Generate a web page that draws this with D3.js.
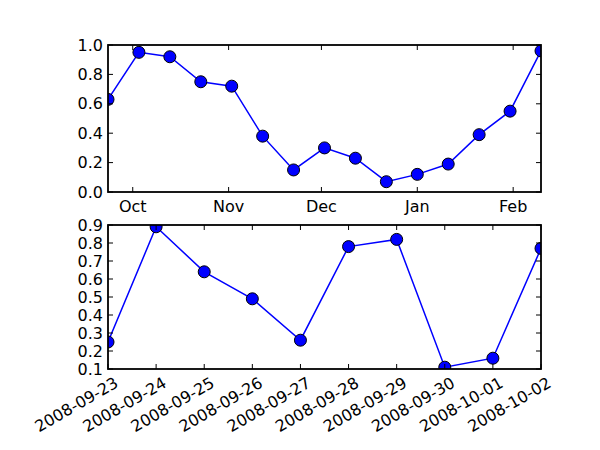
<!DOCTYPE html>
<html><head><meta charset="utf-8">
<script src="https://cdn.jsdelivr.net/npm/d3@7"></script>
<style>body{margin:0;background:#fff}text{font-family:"DejaVu Sans";font-size:16px}</style>
</head><body><svg id="c" width="600" height="450"></svg>
<script>
const topStart = "2008-09-23";
const topValues = [0.63,0.95,0.92,0.75,0.72,0.38,0.15,0.30,0.23,0.07,0.12,0.19,0.39,0.55,0.96];
const topMonthTicks = ["2008-10-01","2008-11-01","2008-12-01","2009-01-01","2009-02-01"];
const botDates = ["2008-09-23","2008-09-24","2008-09-25","2008-09-26","2008-09-27","2008-09-28","2008-09-29","2008-09-30","2008-10-01","2008-10-02"];
const botValues = [0.25,0.89,0.64,0.49,0.26,0.78,0.82,0.11,0.16,0.77];

const svg = d3.select("#c");
const pd = s => { const [y,m,d]=s.split("-").map(Number); return new Date(Date.UTC(y,m-1,d)); };
const L=108,R=541;
const t0=pd(topStart);
const topDates = topValues.map((v,i)=>new Date(t0.getTime()+i*10*864e5));
let cid=0;
function panel(dates, vals, top, bottom, ydom, yticks, yfmt, xticks, xfmt, rotate){
  const x=d3.scaleUtc().domain([dates[0],dates[dates.length-1]]).range([L,R]);
  const y=d3.scaleLinear().domain(ydom).range([bottom,top]);
  const g=svg.append("g");
  const id="clip"+(cid++);
  svg.append("clipPath").attr("id",id).append("rect").attr("x",L).attr("y",top).attr("width",R-L).attr("height",bottom-top);
  const pg=g.append("g").attr("clip-path",`url(#${id})`);
  pg.append("path").datum(vals).attr("fill","none").attr("stroke","#0000ff").attr("stroke-width",1.5)
   .attr("d",d3.line().x((d,i)=>x(dates[i])).y(d=>y(d)));
  pg.selectAll("circle").data(vals).enter().append("circle").attr("cx",(d,i)=>x(dates[i])).attr("cy",d=>y(d))
   .attr("r",6).attr("fill","#0000ff").attr("stroke","#000").attr("stroke-width",1);
  yticks.forEach(v=>{
    const yy=y(v);
    g.append("line").attr("x1",L).attr("x2",L+5).attr("y1",yy).attr("y2",yy).attr("stroke","#000");
    g.append("line").attr("x1",R).attr("x2",R-5).attr("y1",yy).attr("y2",yy).attr("stroke","#000");
    g.append("text").attr("x",L-5).attr("y",yy).attr("dy","0.35em").attr("text-anchor","end").text(yfmt(v));
  });
  xticks.forEach(d=>{
    const xx=x(d);
    g.append("line").attr("x1",xx).attr("x2",xx).attr("y1",bottom).attr("y2",bottom-5).attr("stroke","#000");
    g.append("line").attr("x1",xx).attr("x2",xx).attr("y1",top).attr("y2",top+5).attr("stroke","#000");
    if(rotate){
      g.append("text").attr("transform",`translate(${xx+5},${bottom+6}) rotate(-30)`).attr("text-anchor","end").attr("dy","0.8em").text(xfmt(d));
    } else {
      g.append("text").attr("x",xx).attr("y",bottom+7).attr("dy","0.8em").attr("text-anchor","middle").text(xfmt(d));
    }
  });
  g.append("rect").attr("x",L).attr("y",top).attr("width",R-L).attr("height",bottom-top).attr("fill","none").attr("stroke","#000").attr("stroke-width",1.8);
}
panel(topDates, topValues, 45, 192, [0,1], d3.range(0,1.01,0.2), d3.format(".1f"),
  topMonthTicks.map(pd), d3.utcFormat("%b"), false);
const bd=botDates.map(pd);
panel(bd, botValues, 225, 369, [0.1,0.9], d3.range(1,10).map(i=>i/10), d3.format(".1f"),
  bd, d3.utcFormat("%Y-%m-%d"), true);
</script></body></html>
